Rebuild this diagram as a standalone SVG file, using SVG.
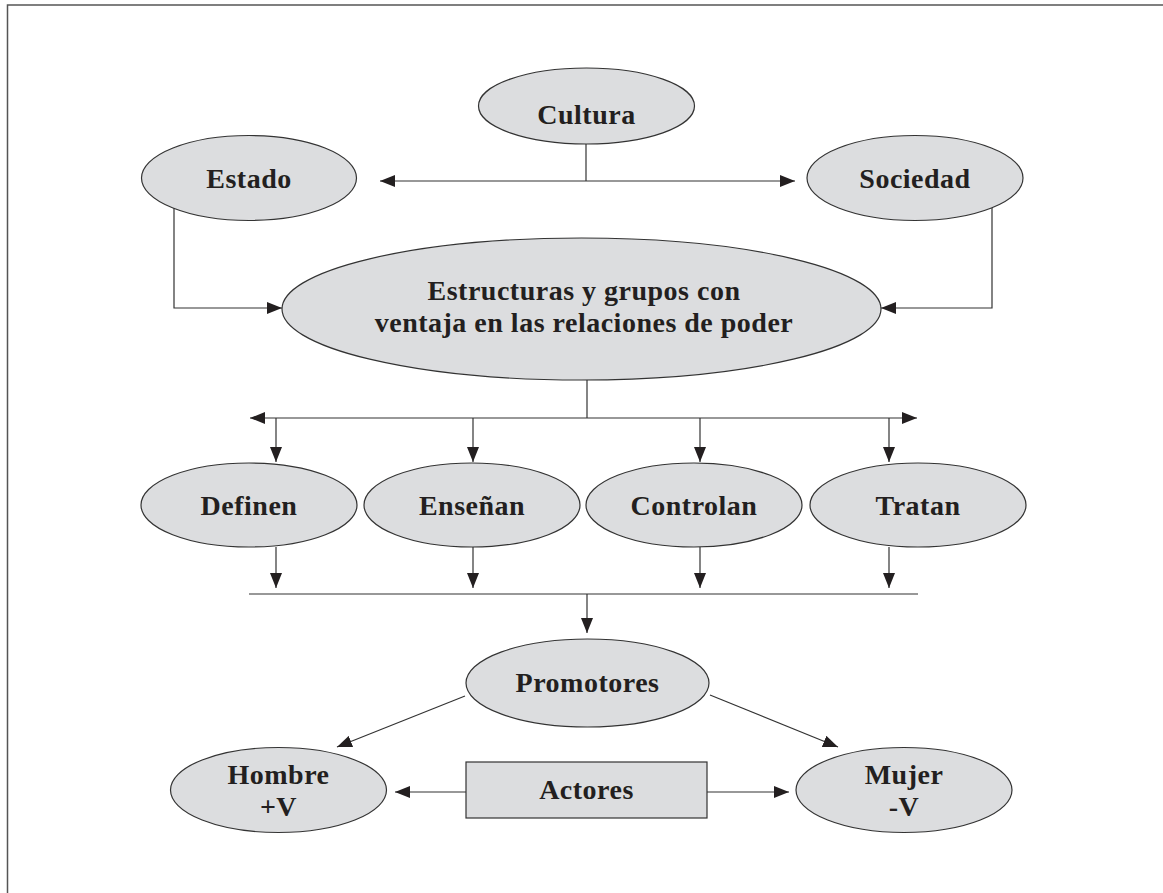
<svg xmlns="http://www.w3.org/2000/svg" width="1163" height="893" viewBox="0 0 1163 893">
<style>
.n{fill:#dcdddf;stroke:#333;stroke-width:1.2}
.t{font-family:"Liberation Serif","Times New Roman",serif;font-weight:bold;font-size:28px;letter-spacing:0.5px;fill:#231f20;text-anchor:middle}
.c{fill:none;stroke:#333;stroke-width:1.2}
.a{marker-end:url(#ah)}
.b{marker-start:url(#ah);marker-end:url(#ah)}
</style>
<defs>
<marker id="ah" markerWidth="15" markerHeight="12" refX="15" refY="6" orient="auto-start-reverse" markerUnits="userSpaceOnUse">
<path d="M0,0 L15,6 L0,12 z" fill="#231f20"/>
</marker>
</defs>
<rect width="1163" height="893" fill="#fff"/>
<path d="M7.5,893 V5 H1163" fill="none" stroke="#555" stroke-width="1.5"/>
<g id="connectors">
<path class="c b" d="M380,181 H795"/>
<path class="c" d="M586,144 V181"/>
<path class="c a" d="M174,208 V308 H282"/>
<path class="c a" d="M992,208 V308 H881"/>
<path class="c" d="M587,380 V418"/>
<path class="c b" d="M250,418 H917"/>
<path class="c a" d="M276,418 V462"/>
<path class="c a" d="M473,418 V462"/>
<path class="c a" d="M700,418 V462"/>
<path class="c a" d="M889,418 V462"/>
<path class="c a" d="M276,547 V588"/>
<path class="c a" d="M473,547 V588"/>
<path class="c a" d="M700,547 V588"/>
<path class="c a" d="M889,547 V588"/>
<path class="c" d="M249,594 H918"/>
<path class="c a" d="M587,594 V633"/>
<path class="c a" d="M465,696 L337,747"/>
<path class="c a" d="M710,695 L838,747"/>
<path class="c a" d="M466,792 H395"/>
<path class="c a" d="M707,792 H789"/>
</g>
<g id="cultura"><ellipse class="n" cx="586.5" cy="106" rx="108" ry="38"/><text class="t" x="586.5" y="124">Cultura</text></g>
<g id="estado"><ellipse class="n" cx="249" cy="178" rx="107.5" ry="42.5"/><text class="t" x="249" y="188">Estado</text></g>
<g id="sociedad"><ellipse class="n" cx="915" cy="178" rx="108" ry="42.5"/><text class="t" x="915" y="188">Sociedad</text></g>
<g id="estructuras"><ellipse class="n" cx="581.5" cy="309" rx="299.5" ry="71"/><text class="t" x="584" y="300">Estructuras y grupos con</text><text class="t" x="584" y="332">ventaja en las relaciones de poder</text></g>
<g id="definen"><ellipse class="n" cx="249" cy="505" rx="108" ry="42"/><text class="t" x="249" y="515">Definen</text></g>
<g id="ensenan"><ellipse class="n" cx="472" cy="505" rx="108" ry="42"/><text class="t" x="472" y="515">Enseñan</text></g>
<g id="controlan"><ellipse class="n" cx="694" cy="505" rx="108" ry="42"/><text class="t" x="694" y="515">Controlan</text></g>
<g id="tratan"><ellipse class="n" cx="918" cy="505" rx="108" ry="42"/><text class="t" x="918" y="515">Tratan</text></g>
<g id="promotores"><ellipse class="n" cx="587.5" cy="683" rx="121.5" ry="44"/><text class="t" x="587.5" y="692">Promotores</text></g>
<g id="hombre"><ellipse class="n" cx="278.5" cy="790" rx="108" ry="42.5"/><text class="t" x="278.5" y="784">Hombre</text><text class="t" x="278.5" y="816">+V</text></g>
<g id="actores"><rect class="n" x="466" y="762" width="241" height="56"/><text class="t" x="586.5" y="799">Actores</text></g>
<g id="mujer"><ellipse class="n" cx="904" cy="790" rx="108" ry="42.5"/><text class="t" x="904" y="784">Mujer</text><text class="t" x="904" y="816">-V</text></g>
</svg>
